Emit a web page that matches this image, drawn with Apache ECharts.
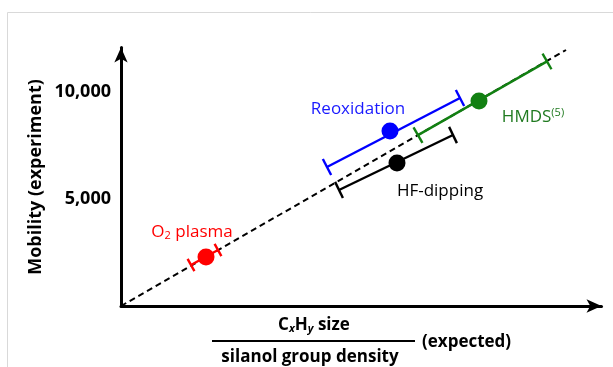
<!DOCTYPE html>
<html>
<head>
<meta charset="utf-8">
<script src="https://cdn.jsdelivr.net/npm/echarts@6/dist/echarts.min.js"></script>
<style>
html,body{margin:0;padding:0;background:#fff;}
#chart{width:613px;height:367px;}
</style>
</head>
<body>
<div id="chart"></div>
<script>
// ---- data ----
const categories = ['O2 plasma', 'Reoxidation', 'HF-dipping', 'HMDS(5)'];
const expected   = [2285, 7231, 7419, 9623];   // x (expected) of the dot
const mobility   = [2290, 8178, 6682, 9580];   // y (experiment) of the dot
const errLowX    = [1882, 5537, 5860, 7983];
const errLowY    = [1916, 6495, 5421, 7985];
const errHighX   = [2607, 9112, 8924, 11451];
const errHighY   = [2617, 9720, 7991, 11430];
const trendX     = [0, 11962];
const trendY     = [0, 11963];
const yTickValues = [5000, 10000];
const yTickLabels = ['5,000', '10,000'];

const colors = ['#ff0000', '#0000ff', '#000000', '#128012'];
const labelColors = ['#ff0000', '#1a1aff', '#000000', '#207a20'];
const labelOffsets = [[-14, -25], [-32, -22], [43, 28], [54, 16]];
const labelTexts = ['O{sub|2} plasma', 'Reoxidation', 'HF-dipping', 'HMDS{sup|(5)}'];
const capHalf = [7, 9, 9, 9];
const FONT = '"Open Sans", "Liberation Sans", sans-serif';

const chart = echarts.init(document.getElementById('chart'), null, {renderer: 'canvas'});

const errData = categories.map((c, i) => [errLowX[i], errLowY[i], errHighX[i], errHighY[i], i]);
const dotData = categories.map((c, i) => ({
  value: [expected[i], mobility[i]],
  itemStyle: {color: colors[i], opacity: 1},
  label: {
    show: true, position: 'inside', offset: labelOffsets[i],
    formatter: labelTexts[i], color: labelColors[i], opacity: 1,
    fontFamily: FONT, fontSize: 17,
    rich: {
      sub: {fontSize: 11, verticalAlign: 'bottom', color: labelColors[i], fontFamily: FONT, padding: [8, 0, 0, 0]},
      sup: {fontSize: 11, verticalAlign: 'top', color: labelColors[i], fontFamily: FONT, padding: [0, 0, 8, 0]}
    }
  }
}));

const option = {
  animation: false,
  backgroundColor: '#ffffff',
  grid: {left: 121, right: 613 - 601.5, top: 47.5, bottom: 367 - 306, containLabel: false},
  xAxis: {
    type: 'value', min: 0, max: 12916,
    axisLine: {show: true, symbol: ['none', 'arrow'], symbolSize: [10, 15], lineStyle: {color: '#000', width: 3}},
    axisTick: {show: false}, axisLabel: {show: false}, splitLine: {show: false}
  },
  yAxis: {
    type: 'value', min: 0, max: 12080, interval: 5000,
    axisLine: {show: true, symbol: ['none', 'arrow'], symbolSize: [10, 15], lineStyle: {color: '#000', width: 3}},
    axisTick: {show: false}, splitLine: {show: false},
    axisLabel: {
      show: true, margin: 10, color: '#000', fontFamily: FONT, fontWeight: 'bold', fontSize: 18,
      showMaxLabel: false,
      formatter: v => { const k = yTickValues.indexOf(v); return k >= 0 ? yTickLabels[k] : ''; }
    }
  },
  series: [
    {
      type: 'line', data: trendX.map((x, i) => [x, trendY[i]]), symbol: 'none', z: 1,
      lineStyle: {color: '#000', width: 2, type: [6, 4]}
    },
    {
      type: 'custom', data: errData, z: 2,
      renderItem: function (params, api) {
        const i = api.value(4);
        const p1 = api.coord([api.value(0), api.value(1)]);
        const p2 = api.coord([api.value(2), api.value(3)]);
        const dx = p2[0] - p1[0], dy = p2[1] - p1[1];
        const len = Math.sqrt(dx * dx + dy * dy);
        const nx = -dy / len * capHalf[i], ny = dx / len * capHalf[i];
        const st = {stroke: colors[i], lineWidth: 2.4};
        return {type: 'group', children: [
          {type: 'line', shape: {x1: p1[0], y1: p1[1], x2: p2[0], y2: p2[1]}, style: st},
          {type: 'line', shape: {x1: p1[0] - nx, y1: p1[1] - ny, x2: p1[0] + nx, y2: p1[1] + ny}, style: st},
          {type: 'line', shape: {x1: p2[0] - nx, y1: p2[1] - ny, x2: p2[0] + nx, y2: p2[1] + ny}, style: st}
        ]};
      }
    },
    {
      type: 'scatter', data: dotData, symbolSize: 17, z: 3
    }
  ],
  graphic: [
    {type: 'rect', shape: {x: 7.5, y: 12.5, width: 700, height: 400}, style: {fill: 'none', stroke: '#d9d9d9', lineWidth: 1}, z: -10},
    {type: 'text', x: 36, y: 177, rotation: Math.PI / 2,
     style: {text: 'Mobility (experiment)', align: 'center', verticalAlign: 'middle', fill: '#000', font: 'bold 18px ' + FONT}},
    {type: 'text', x: 314, y: 325,
     style: {text: 'C{s|x}H{s|y} size', align: 'center', verticalAlign: 'middle', fill: '#000', font: 'bold 17px ' + FONT,
       rich: {s: {fontSize: 11, fontStyle: 'italic', fontWeight: 'bold', fontFamily: FONT, verticalAlign: 'bottom', padding: [7, 0, 0, 0]}}}},
    {type: 'line', shape: {x1: 212, y1: 341, x2: 415, y2: 341}, style: {stroke: '#000', lineWidth: 2}},
    {type: 'text', x: 310, y: 357,
     style: {text: 'silanol group density', align: 'center', verticalAlign: 'middle', fill: '#000', font: 'bold 17px ' + FONT}},
    {type: 'text', x: 422, y: 342,
     style: {text: '(expected)', align: 'left', verticalAlign: 'middle', fill: '#000', font: 'bold 17px ' + FONT}}
  ]
};
chart.setOption(option);
</script>
</body>
</html>
